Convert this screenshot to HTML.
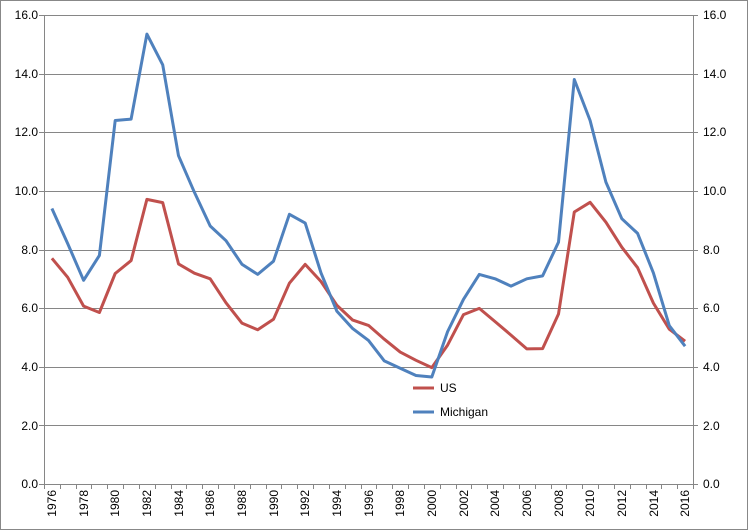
<!DOCTYPE html>
<html><head><meta charset="utf-8"><style>
body{margin:0;background:#fff}
svg{display:block;font-family:"Liberation Sans",sans-serif;font-size:12px}
</style></head><body>
<svg id="s" width="748" height="530" xmlns="http://www.w3.org/2000/svg">
<rect x="0.5" y="0.5" width="747" height="529" fill="#fff" stroke="#888"/>
<g id="grid" stroke="#868686" stroke-width="1"></g>
<g fill="#000" text-anchor="end">
<text x="38" y="488">0.0</text><text x="38" y="430">2.0</text><text x="38" y="371">4.0</text><text x="38" y="312">6.0</text><text x="38" y="254">8.0</text><text x="38" y="195">10.0</text><text x="38" y="136">12.0</text><text x="38" y="78">14.0</text><text x="38" y="19">16.0</text>
</g>
<g fill="#000" text-anchor="start">
<text x="703" y="488">0.0</text><text x="703" y="430">2.0</text><text x="703" y="371">4.0</text><text x="703" y="312">6.0</text><text x="703" y="254">8.0</text><text x="703" y="195">10.0</text><text x="703" y="136">12.0</text><text x="703" y="78">14.0</text><text x="703" y="19">16.0</text>
</g>
<g fill="#000" text-anchor="end">
<text transform="translate(56,490) rotate(-90)">1976</text>
<text transform="translate(88,490) rotate(-90)">1978</text>
<text transform="translate(119,490) rotate(-90)">1980</text>
<text transform="translate(151,490) rotate(-90)">1982</text>
<text transform="translate(183,490) rotate(-90)">1984</text>
<text transform="translate(214,490) rotate(-90)">1986</text>
<text transform="translate(246,490) rotate(-90)">1988</text>
<text transform="translate(278,490) rotate(-90)">1990</text>
<text transform="translate(309,490) rotate(-90)">1992</text>
<text transform="translate(341,490) rotate(-90)">1994</text>
<text transform="translate(373,490) rotate(-90)">1996</text>
<text transform="translate(404,490) rotate(-90)">1998</text>
<text transform="translate(436,490) rotate(-90)">2000</text>
<text transform="translate(468,490) rotate(-90)">2002</text>
<text transform="translate(499,490) rotate(-90)">2004</text>
<text transform="translate(531,490) rotate(-90)">2006</text>
<text transform="translate(563,490) rotate(-90)">2008</text>
<text transform="translate(594,490) rotate(-90)">2010</text>
<text transform="translate(626,490) rotate(-90)">2012</text>
<text transform="translate(658,490) rotate(-90)">2014</text>
<text transform="translate(689,490) rotate(-90)">2016</text>
</g>
<polyline id="us" fill="none" stroke="#c0504d" stroke-width="3" stroke-linejoin="round"/>
<polyline id="mi" fill="none" stroke="#4f81bd" stroke-width="3" stroke-linejoin="round"/>
<line x1="413" y1="388" x2="434" y2="388" stroke="#c0504d" stroke-width="3"/>
<text x="440" y="392">US</text>
<line x1="413" y1="412" x2="434" y2="412" stroke="#4f81bd" stroke-width="3"/>
<text x="440" y="416">Michigan</text>
</svg>
<script>
var L=44,R=693,T=15,B=484,n=41,w=(R-L)/n,u=(B-T)/16;
var g=document.getElementById('grid'),h='';
for(var k=0;k<=8;k++){var y=Math.round(B-k*2*u)+0.5;h+='<line x1="'+(L-5)+'" y1="'+y+'" x2="'+(R+5)+'" y2="'+y+'"/>';}
h+='<line x1="'+(L+.5)+'" y1="'+T+'" x2="'+(L+.5)+'" y2="'+B+'"/><line x1="'+(R+.5)+'" y1="'+T+'" x2="'+(R+.5)+'" y2="'+B+'"/>';
for(var i=0;i<=n;i++){var x=Math.round(L+i*w)+0.5;h+='<line x1="'+x+'" y1="'+B+'" x2="'+x+'" y2="'+(B+5)+'"/>';}
g.innerHTML=h;
var us=[7.7,7.05,6.07,5.85,7.18,7.62,9.71,9.6,7.51,7.19,7.0,6.18,5.49,5.26,5.62,6.85,7.49,6.91,6.1,5.59,5.41,4.94,4.5,4.22,3.97,4.74,5.78,5.99,5.54,5.08,4.61,4.62,5.8,9.28,9.61,8.93,8.08,7.38,6.17,5.28,4.87];
var mi=[9.4,8.2,6.95,7.8,12.4,12.45,15.35,14.3,11.2,9.95,8.8,8.3,7.5,7.15,7.6,9.2,8.9,7.2,5.9,5.3,4.9,4.2,3.95,3.7,3.65,5.2,6.3,7.15,7.0,6.75,7.0,7.1,8.25,13.8,12.4,10.3,9.05,8.55,7.2,5.4,4.7];
function p(a){return a.map(function(v,i){return (L+w/2+i*w).toFixed(1)+','+(B-v*u).toFixed(1)}).join(' ')}
document.getElementById('us').setAttribute('points',p(us));
document.getElementById('mi').setAttribute('points',p(mi));
</script>
</body></html>
